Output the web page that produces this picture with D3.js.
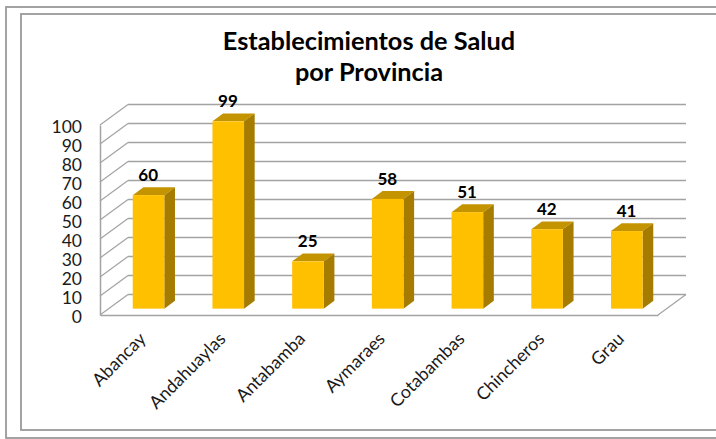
<!DOCTYPE html>
<html>
<head>
  <meta charset="utf-8">
  <title>Establecimientos de Salud por Provincia</title>
  <style>
    html, body { margin: 0; padding: 0; background: #fff; overflow: hidden; }
    svg { display: block; }
    svg text { font-family: Lato, "Open Sans", sans-serif; }
    .axis text { fill: #1a1a1a; }
  </style>
</head>
<body>
  <script src="https://cdn.jsdelivr.net/npm/d3@7/dist/d3.min.js"></script>
  <script>
    // values
    var provincias = ["Abancay", "Andahuaylas", "Antabamba", "Aymaraes", "Cotabambas", "Chincheros", "Grau"];
    var establecimientos = [60, 99, 25, 58, 51, 42, 41];
    var yTicks = [0, 10, 20, 30, 40, 50, 60, 70, 80, 90, 100];
    var titulo = ["Establecimientos de Salud", "por Provincia"];

    var w = 716, h = 439;

    var svg = d3.select("body").append("svg").attr("width", w).attr("height", h);

    // outer frames, they run off the right edge of the picture
    var frames = [[6, 7, 722, 438], [21, 14, 722, 430]];
    svg.selectAll("rect.frame").data(frames).enter().append("rect")
      .attr("class", "frame")
      .attr("x", function(d) { return d[0]; })
      .attr("y", function(d) { return d[1]; })
      .attr("width", function(d) { return d[2] - d[0]; })
      .attr("height", function(d) { return d[3] - d[1]; })
      .attr("fill", "none")
      .attr("stroke", "#9a9a9a")
      .attr("stroke-width", 1.8);

    // scales for the front plane of the 3d box
    var x = d3.scaleBand().domain(provincias).range([100, 658]);
    var y = d3.scaleLinear().domain([0, 100]).range([315, 125]);
    // depth: 0 = front plane, 1 = back wall
    var dx = d3.scaleLinear().domain([0, 1]).range([0, 28]);
    var dy = d3.scaleLinear().domain([0, 1]).range([0, -20.5]);

    var gridColor = "#a3a3a3";
    var line = d3.line();

    // back wall lines
    svg.selectAll("line.grid").data(yTicks).enter().append("line")
      .attr("class", "grid")
      .attr("x1", x.range()[0] + dx(1))
      .attr("x2", x.range()[1] + dx(1))
      .attr("y1", function(d) { return y(d) + dy(1); })
      .attr("y2", function(d) { return y(d) + dy(1); })
      .attr("stroke", gridColor)
      .attr("stroke-width", 1.7);

    // side wall diagonals
    svg.selectAll("line.side").data(yTicks).enter().append("line")
      .attr("class", "side")
      .attr("x1", x.range()[0])
      .attr("x2", x.range()[0] + dx(1))
      .attr("y1", function(d) { return y(d); })
      .attr("y2", function(d) { return y(d) + dy(1); })
      .attr("stroke", gridColor)
      .attr("stroke-width", 1.2);

    // floor right edge
    svg.append("line")
      .attr("x1", x.range()[1])
      .attr("x2", x.range()[1] + dx(1))
      .attr("y1", y(0))
      .attr("y2", y(0) + dy(1))
      .attr("stroke", gridColor)
      .attr("stroke-width", 1.2);

    // y axis
    var yAxis = d3.axisLeft(y).tickValues(yTicks).tickSize(0).tickPadding(18);
    var gy = svg.append("g").attr("class", "axis").attr("transform", "translate(100,0)").call(yAxis);
    gy.select(".domain").attr("stroke", gridColor).attr("stroke-width", 1.5);
    gy.selectAll("text").style("font-size", "17.5px").attr("dy", "0.4em");

    // x axis, labels at 45 degrees
    var xAxis = d3.axisBottom(x).tickSize(0);
    var gx = svg.append("g").attr("class", "axis").attr("transform", "translate(0," + y(0) + ")").call(xAxis);
    gx.select(".domain").attr("stroke", gridColor).attr("stroke-width", 1.7);
    gx.selectAll("text")
      .style("font-size", "17.8px")
      .style("text-anchor", "end")
      .attr("dy", null)
      .attr("y", 0)
      .attr("transform", "translate(7,25) rotate(-45)");

    // bars: each has a front, top and side face
    var d0 = 0.31, d1 = 0.69;   // where the bar sits in the depth
    var barW = 31.6;
    var barScale = 1.892 / 1.9;  // bars are a little shorter than the wall

    function barLeft(d) { return x(d) + (x.bandwidth() - barW) / 2 + dx(d0); }
    function barBase() { return y(0) + dy(d0); }
    function barTop(i) { return barBase() - (y(0) - y(establecimientos[i])) * barScale; }
    var shiftX = dx(d1) - dx(d0), shiftY = dy(d1) - dy(d0);

    var bars = svg.selectAll("g.bar").data(provincias).enter().append("g").attr("class", "bar");

    bars.append("path")
      .attr("fill", "#C49300")
      .attr("d", function(d, i) {
        var l = barLeft(d), t = barTop(i);
        return line([[l, t], [l + barW, t], [l + barW + shiftX, t + shiftY], [l + shiftX, t + shiftY]]) + "Z";
      });

    bars.append("path")
      .attr("fill", "#A67C00")
      .attr("d", function(d, i) {
        var l = barLeft(d) + barW, t = barTop(i), b = barBase();
        return line([[l, t], [l + shiftX, t + shiftY], [l + shiftX, b + shiftY], [l, b]]) + "Z";
      });

    bars.append("rect")
      .attr("x", barLeft)
      .attr("y", function(d, i) { return barTop(i); })
      .attr("width", barW)
      .attr("height", function(d, i) { return barBase() - barTop(i); })
      .attr("fill", "#FFC000");

    // value labels
    svg.selectAll("text.valor").data(provincias).enter().append("text")
      .attr("class", "valor")
      .attr("x", function(d) { return barLeft(d) + barW / 2 - 0.3; })
      .attr("y", function(d, i) { return barTop(i) - 14; })
      .attr("text-anchor", "middle")
      .style("font-size", "17px")
      .style("font-weight", 700)
      .text(function(d, i) { return establecimientos[i]; });

    // title
    svg.selectAll("text.titulo").data(titulo).enter().append("text")
      .attr("class", "titulo")
      .attr("x", 369)
      .attr("y", function(d, i) { return 49.5 + i * 31.5; })
      .attr("text-anchor", "middle")
      .style("font-size", "25.3px")
      .style("font-weight", 700)
      .text(function(d) { return d; });
  </script>
</body>
</html>
